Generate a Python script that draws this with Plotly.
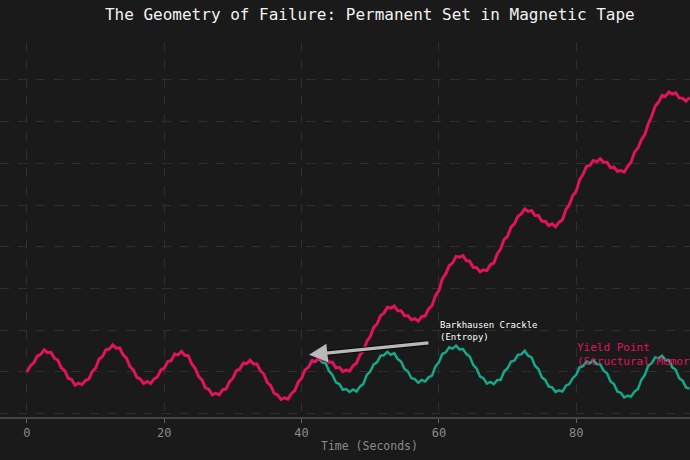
"""Permanent set in magnetic tape: strained trace vs elastic trace"""
from plotly.graph_objects import Scatter, Figure

# sample grid (seconds), every half second
STEP = 0.5

# tape under load: follows the field, then yields and keeps the deformation
strained = [
    0.00, 0.15, 0.22, 0.38, 0.42, 0.53, 0.46, 0.47, 0.33, 0.28,
    0.10, 0.03, -0.15, -0.18, -0.32, -0.27, -0.30, -0.21, -0.17, 0.01,
    0.09, 0.31, 0.37, 0.53, 0.55, 0.65, 0.57, 0.58, 0.41, 0.33,
    0.13, 0.05, -0.13, -0.17, -0.28, -0.23, -0.28, -0.17, -0.12, 0.05,
    0.09, 0.25, 0.27, 0.43, 0.41, 0.49, 0.40, 0.39, 0.19, 0.09,
    -0.11, -0.19, -0.38, -0.42, -0.55, -0.51, -0.55, -0.43, -0.41, -0.23,
    -0.15, 0.03, 0.07, 0.21, 0.20, 0.28, 0.19, 0.19, 0.03, -0.05,
    -0.25, -0.33, -0.51, -0.55, -0.66, -0.62, -0.65, -0.52, -0.45, -0.25,
    -0.15, 0.05, 0.11, 0.27, 0.25, 0.33, 0.28, 0.34, 0.23, 0.23,
    0.10, 0.11, 0.01, 0.05, 0.02, 0.15, 0.21, 0.41, 0.50, 0.73,
    0.85, 1.07, 1.15, 1.35, 1.41, 1.55, 1.53, 1.58, 1.47, 1.47,
    1.35, 1.35, 1.25, 1.28, 1.22, 1.33, 1.34, 1.51, 1.59, 1.83,
    1.95, 2.23, 2.35, 2.55, 2.61, 2.77, 2.75, 2.79, 2.67, 2.65,
    2.51, 2.50, 2.40, 2.45, 2.43, 2.57, 2.61, 2.83, 2.95, 3.18,
    3.25, 3.47, 3.55, 3.73, 3.79, 3.91, 3.85, 3.87, 3.75, 3.75,
    3.61, 3.61, 3.51, 3.55, 3.48, 3.59, 3.65, 3.89, 4.01, 4.23,
    4.33, 4.61, 4.74, 4.93, 4.95, 5.07, 5.04, 5.11, 5.03, 5.03,
    4.90, 4.91, 4.81, 4.83, 4.79, 4.93, 5.03, 5.27, 5.37, 5.57,
    5.69, 5.95, 6.13, 6.37, 6.47, 6.63, 6.61, 6.71, 6.66, 6.69,
    6.57, 6.56, 6.49, 6.58,
]

# what an elastic tape would have done after t = 41 s
ELASTIC_START = 41.0
elastic = [
    0.11, 0.27, 0.25, 0.32, 0.23, 0.21, 0.02, -0.07, -0.25,
    -0.29, -0.43, -0.41, -0.48, -0.42, -0.47, -0.35, -0.29, -0.07,
    0.01, 0.18, 0.23, 0.39, 0.40, 0.48, 0.41, 0.45, 0.31, 0.25,
    0.07, 0.01, -0.15, -0.17, -0.26, -0.19, -0.23, -0.13, -0.09, 0.13,
    0.23, 0.43, 0.47, 0.59, 0.56, 0.63, 0.54, 0.55, 0.43, 0.37,
    0.17, 0.08, -0.11, -0.15, -0.28, -0.24, -0.29, -0.19, -0.19, 0.01,
    0.09, 0.25, 0.27, 0.41, 0.42, 0.51, 0.39, 0.35, 0.15, 0.07,
    -0.13, -0.19, -0.35, -0.37, -0.48, -0.44, -0.47, -0.33, -0.29, -0.15,
    -0.07, 0.11, 0.14, 0.25, 0.21, 0.28, 0.19, 0.18, 0.03, -0.03,
    -0.23, -0.29, -0.47, -0.50, -0.61, -0.57, -0.59, -0.47, -0.41, -0.19,
    -0.07, 0.15, 0.21, 0.35, 0.33, 0.39, 0.29, 0.28, 0.11, 0.05,
    -0.15, -0.21, -0.37, -0.40,
]

x_ticks = [0, 20, 40, 60, 80]

BG = "#1a1a1a"
RED = "#e0145a"
TEAL = "#17a88b"
MONO = "DejaVu Sans Mono, monospace"


def main():
    """Construit la figure et l'ecrit dans out.html"""
    t_strained = [i * STEP for i in range(len(strained))]
    t_elastic = [ELASTIC_START + i * STEP for i in range(len(elastic))]

    fig = Figure()
    fig.add_trace(Scatter(x=t_elastic, y=elastic, mode="lines",
                          line=dict(color=TEAL, width=2.5), hoverinfo="skip"))
    fig.add_trace(Scatter(x=t_strained, y=strained, mode="lines",
                          line=dict(color=RED, width=3), hoverinfo="skip"))

    fig.update_layout(
        width=690, height=460, showlegend=False,
        paper_bgcolor=BG, plot_bgcolor=BG,
        margin=dict(l=0, r=0, t=42, b=43),
        font=dict(family=MONO, color="#8a8a8a"),
        title=dict(text="The Geometry of Failure: Permanent Set in Magnetic Tape",
                   x=0.536, xanchor="center", y=0.968, yanchor="middle",
                   font=dict(size=16, color="#f2f2f2", family=MONO)),
    )
    fig.update_xaxes(range=[-3.93, 96.58], tickvals=x_ticks,
                     tickfont=dict(size=12, color="#8a8a8a"),
                     showgrid=True, gridcolor="#303030", griddash="dash",
                     gridwidth=1, zeroline=False,
                     showline=True, linecolor="#444444", linewidth=1.5,
                     ticks="outside", ticklen=4, tickcolor="#666666")
    fig.update_yaxes(range=[-1.08, 7.91], dtick=1, tick0=0,
                     showticklabels=False, showgrid=True, gridcolor="#303030",
                     griddash="dash", gridwidth=1, zeroline=False, showline=False)

    # axis title placed as text under the ticks
    fig.add_annotation(text="Time (Seconds)", xref="paper", yref="paper",
                       x=0.536, y=-0.077, xanchor="center", yanchor="middle",
                       showarrow=False, font=dict(size=11.5, color="#8a8a8a"))

    # arrow: dark edge then light body
    for colour, width, size in (("#0d0d0d", 5.5, 0.62),
                                ("rgba(215,215,215,0.85)", 3.2, 1.15)):
        fig.add_annotation(text="", x=41.08, y=0.41, ax=58.7, ay=0.70,
                           xref="x", yref="y", axref="x", ayref="y",
                           showarrow=True, arrowhead=2, arrowsize=size,
                           arrowwidth=width, arrowcolor=colour, standoff=0)
    fig.add_annotation(text="Barkhausen Crackle<br>(Entropy)", x=59.8, y=0.98,
                       xref="x", yref="y", xanchor="left", yanchor="middle",
                       align="left", showarrow=False,
                       font=dict(size=9, color="#ffffff"))
    fig.add_annotation(text="Yield Point<br>(Structural Memory)", x=79.9, y=0.43,
                       xref="x", yref="y", xanchor="left", yanchor="middle",
                       align="left", showarrow=False,
                       font=dict(size=11, color=RED))

    # page without the default body margin so the figure sits at the corner
    fig.write_html("out.html", config={"displayModeBar": False},
                   post_script="document.body.style.margin = '0';")


if __name__ == "__main__":
    main()
